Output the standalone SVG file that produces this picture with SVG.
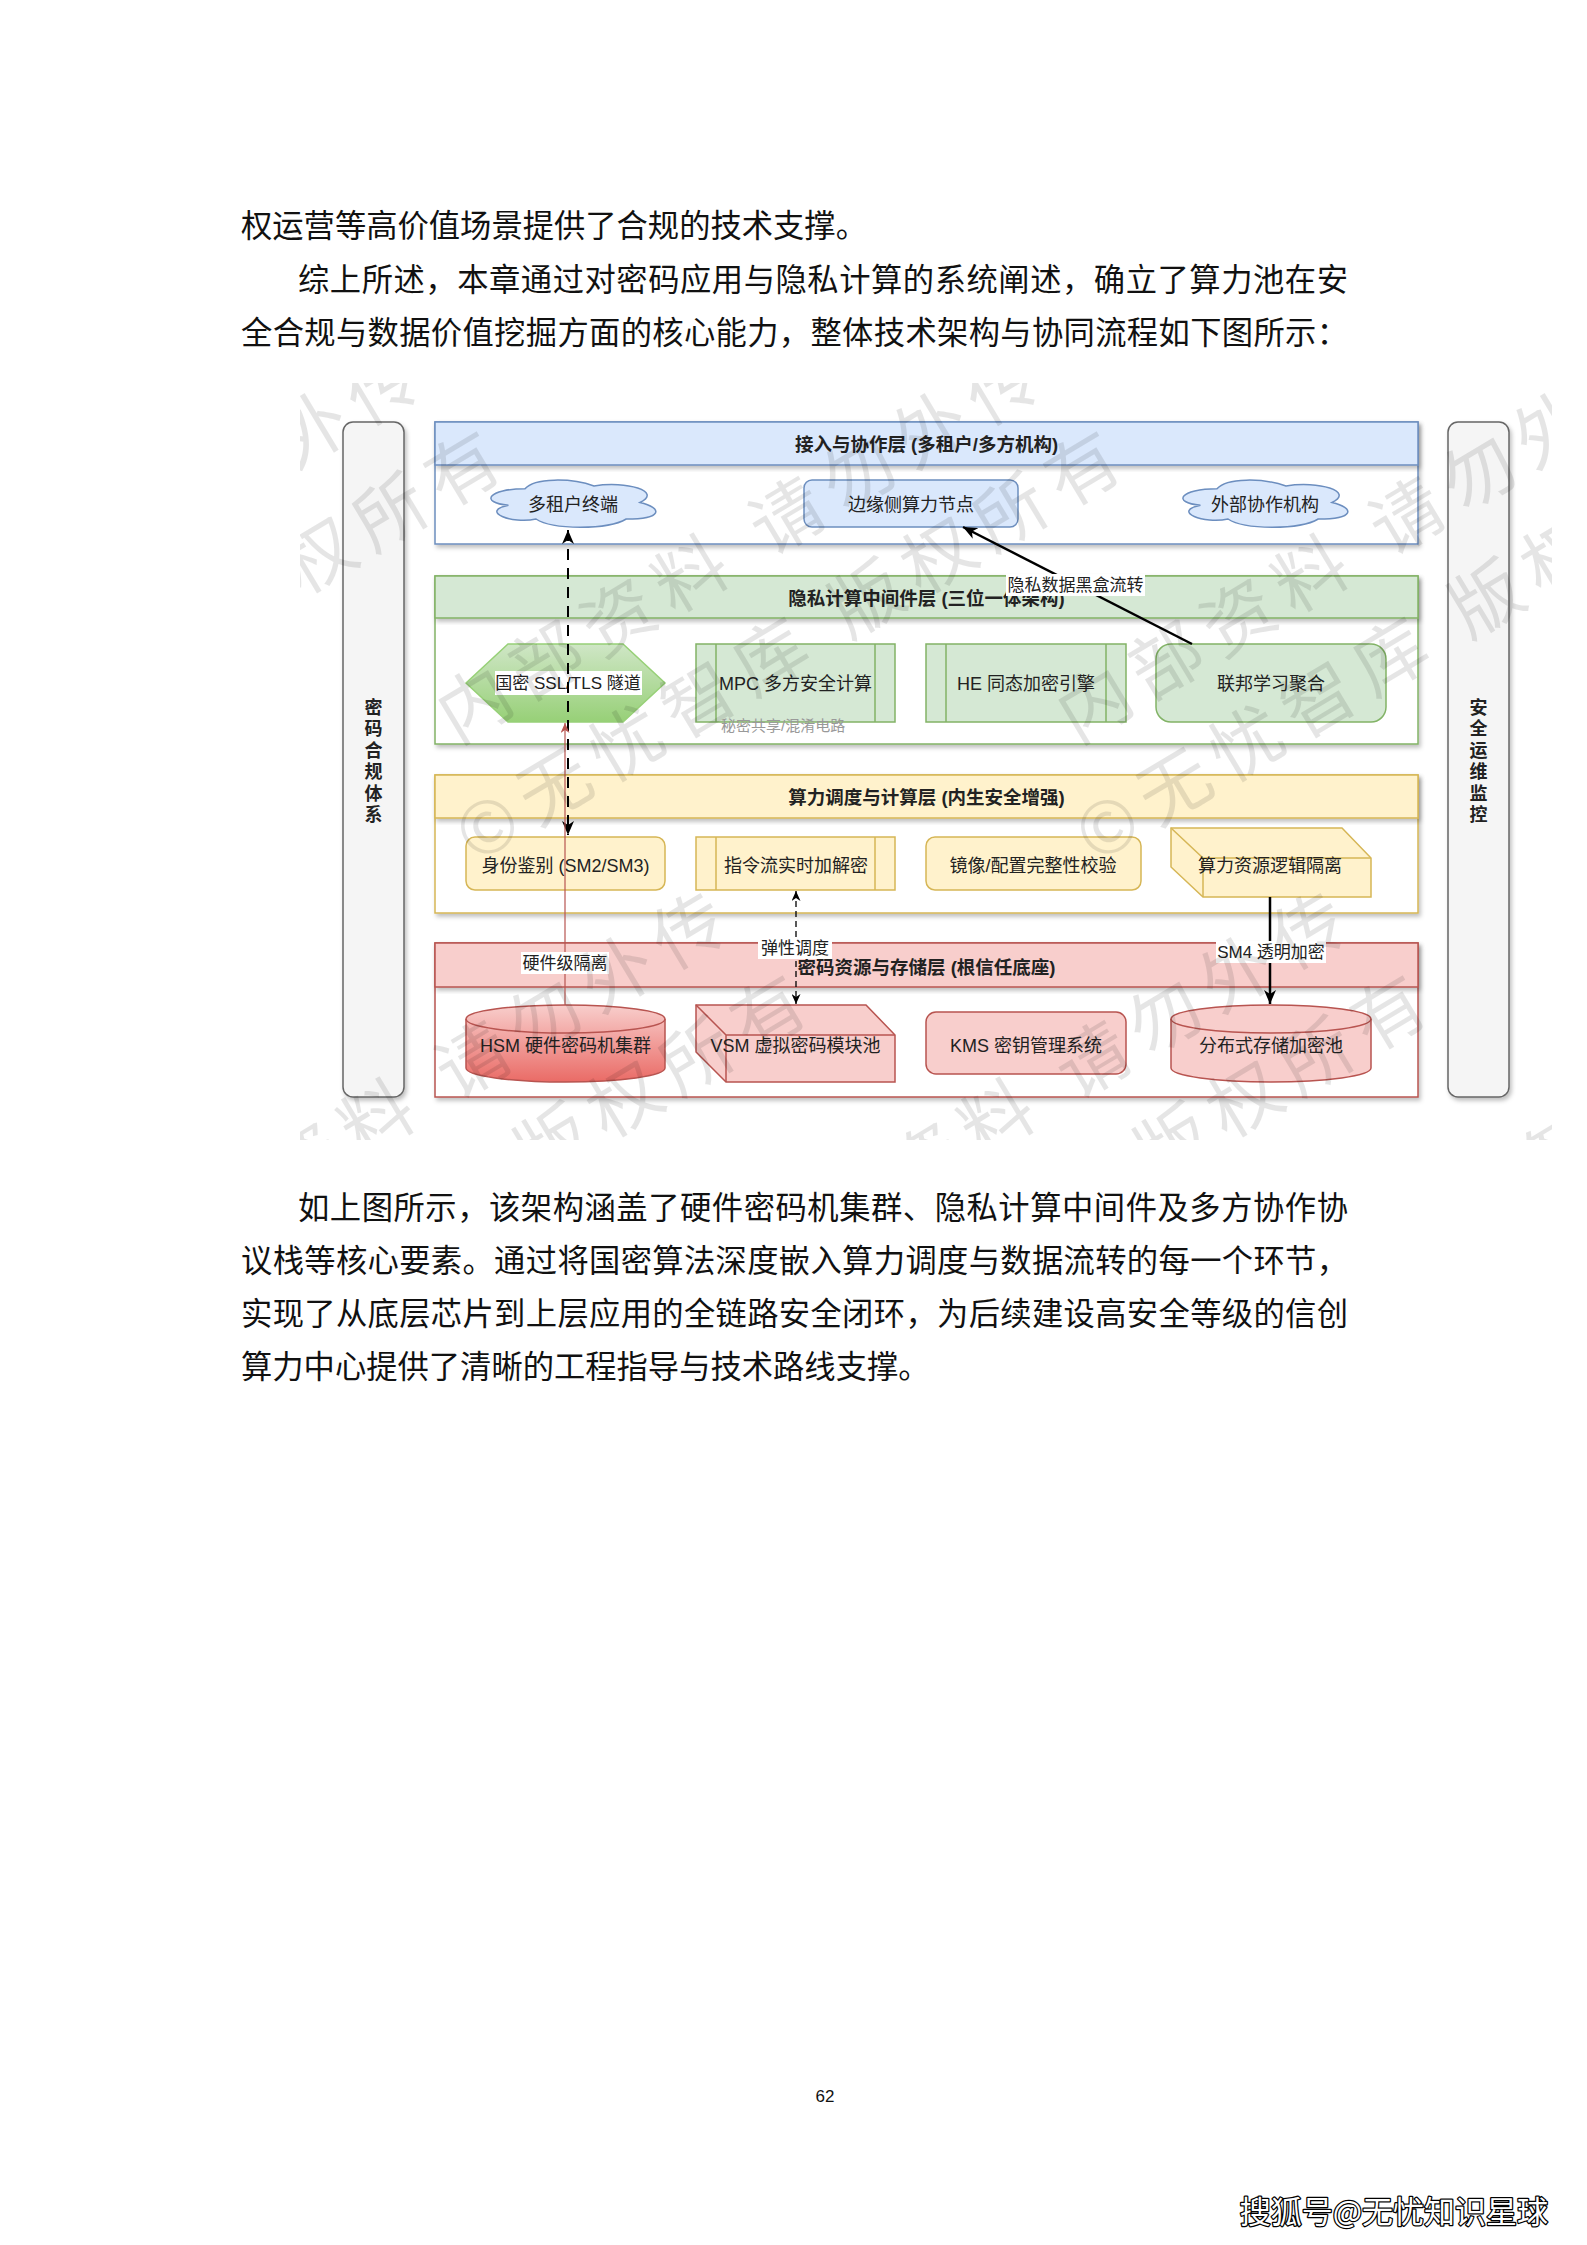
<svg xmlns="http://www.w3.org/2000/svg" width="1587" height="2245" viewBox="0 0 1587 2245">
<style>
.body{font-family:"Noto Sans CJK SC",sans-serif;font-size:31.3px;fill:#111}
.n{font-family:"Liberation Sans","Noto Sans CJK SC",sans-serif;font-size:18px;fill:#222;text-anchor:middle}
.h{font-family:"Liberation Sans","Noto Sans CJK SC",sans-serif;font-size:18.5px;font-weight:bold;fill:#222;text-anchor:middle}
.side{font-family:"Liberation Sans","Noto Sans CJK SC",sans-serif;font-size:18px;font-weight:bold;fill:#222;text-anchor:middle}
.el{font-family:"Liberation Sans","Noto Sans CJK SC",sans-serif;font-size:17px;fill:#222;text-anchor:middle}
.lbg{fill:#fff}
.wm{font-family:"Noto Sans CJK SC",sans-serif;font-size:72px;fill:#000;fill-opacity:0.1;letter-spacing:12px}
.blueH{fill:#dae8fc;stroke:#6c8ebf;stroke-width:1.5}
.greenH{fill:#d5e8d4;stroke:#82b366;stroke-width:1.5}
.yellowH{fill:#fff2cc;stroke:#d6b656;stroke-width:1.5}
.redH{fill:#f8cecc;stroke:#b85450;stroke-width:1.5}
.blueB{fill:#fff;stroke:#6c8ebf;stroke-width:1.5}
.greenB{fill:#fff;stroke:#82b366;stroke-width:1.5}
.yellowB{fill:#fff;stroke:#d6b656;stroke-width:1.5}
.redB{fill:#fff;stroke:#b85450;stroke-width:1.5}
.g{fill:#d5e8d4;stroke:#82b366;stroke-width:1.5}
.y{fill:#fff2cc;stroke:#d6b656;stroke-width:1.5}
.r{fill:#f8cecc;stroke:#b85450;stroke-width:1.5}
.b{fill:#dae8fc;stroke:#6c8ebf;stroke-width:1.5}
.sidebar{fill:#f5f5f5;stroke:#666;stroke-width:1.5}
.ln{fill:none}
</style>
<defs>
<filter id="sh" x="-5%" y="-5%" width="115%" height="120%">
<feDropShadow dx="2" dy="3" stdDeviation="2" flood-color="#000" flood-opacity="0.25"/>
</filter>
<linearGradient id="hexg" x1="0" y1="0" x2="0" y2="1"><stop offset="0" stop-color="#cfe6c6"/><stop offset="1" stop-color="#97d077"/></linearGradient>
<linearGradient id="hsmg" x1="0" y1="0" x2="0" y2="1"><stop offset="0" stop-color="#f8cecc"/><stop offset="1" stop-color="#ea6b66"/></linearGradient>
<path id="cloudp" d="M46,13.75 C9.2,13.75 0,27.5 29.44,30.25 C0,36.3 33.12,49.5 57.04,44 C73.6,55 128.8,55 147.2,44 C184,44 184,33 161,27.5 C184,16.5 147.2,5.5 115,11 C92,2.75 55.2,2.75 46,13.75 Z"/>
<marker id="ab" viewBox="0 0 14 12" refX="14" refY="6" markerWidth="14" markerHeight="12" markerUnits="userSpaceOnUse" orient="auto-start-reverse"><path d="M0,0 L14,6 L0,12 L4,6 Z" fill="#000"/></marker>
<marker id="as" viewBox="0 0 10 9" refX="10" refY="4.5" markerWidth="10" markerHeight="9" markerUnits="userSpaceOnUse" orient="auto-start-reverse"><path d="M0,0 L10,4.5 L0,9 L3,4.5 Z" fill="#000"/></marker>
<marker id="ar" viewBox="0 0 10 9" refX="10" refY="4.5" markerWidth="10" markerHeight="9" markerUnits="userSpaceOnUse" orient="auto-start-reverse"><path d="M0,0 L10,4.5 L0,9 L3,4.5 Z" fill="#b85450"/></marker>
<clipPath id="wmclip"><rect x="300" y="383" width="1252" height="757"/></clipPath>
<g id="wmb"><text x="-36" y="27">内部资料 请勿外传</text><text x="-82" y="139">©无忧智库 版权所有</text></g>
</defs>

<rect x="0" y="0" width="1587" height="2245" fill="#fff"/>

<g id="text-top">
<text class="body" x="241" y="237">权运营等高价值场景提供了合规的技术支撑。</text>
<text class="body" x="298" y="291" textLength="1050" lengthAdjust="spacing">综上所述，本章通过对密码应用与隐私计算的系统阐述，确立了算力池在安</text>
<text class="body" x="241" y="344" textLength="1107" lengthAdjust="spacing">全合规与数据价值挖掘方面的核心能力，整体技术架构与协同流程如下图所示：</text>
</g>

<g id="side-left">
<rect class="sidebar" x="343" y="422" width="61" height="675" rx="10" filter="url(#sh)"/>
<text class="side"><tspan x="373.5" y="713.5">密</tspan><tspan x="373.5" y="735">码</tspan><tspan x="373.5" y="756.5">合</tspan><tspan x="373.5" y="778">规</tspan><tspan x="373.5" y="799.5">体</tspan><tspan x="373.5" y="821">系</tspan></text>
</g>
<g id="side-right">
<rect class="sidebar" x="1448" y="422" width="61" height="675" rx="10" filter="url(#sh)"/>
<text class="side"><tspan x="1478.5" y="713.5">安</tspan><tspan x="1478.5" y="735">全</tspan><tspan x="1478.5" y="756.5">运</tspan><tspan x="1478.5" y="778">维</tspan><tspan x="1478.5" y="799.5">监</tspan><tspan x="1478.5" y="821">控</tspan></text>
</g>

<g id="layer-access">
<rect class="blueB" x="435" y="422" width="983" height="122" filter="url(#sh)"/>
<rect class="blueH" x="435" y="422" width="983" height="43" filter="url(#sh)"/>
<text class="h" x="926.5" y="451">接入与协作层 (多租户/多方机构)</text>
</g>
<g id="layer-privacy">
<rect class="greenB" x="435" y="576" width="983" height="168" filter="url(#sh)"/>
<rect class="greenH" x="435" y="576" width="983" height="42" filter="url(#sh)"/>
<text class="h" x="926.5" y="605">隐私计算中间件层 (三位一体架构)</text>
</g>
<g id="layer-compute">
<rect class="yellowB" x="435" y="775" width="983" height="138" filter="url(#sh)"/>
<rect class="yellowH" x="435" y="775" width="983" height="43" filter="url(#sh)"/>
<text class="h" x="926.5" y="804">算力调度与计算层 (内生安全增强)</text>
</g>
<g id="layer-crypto">
<rect class="redB" x="435" y="943" width="983" height="154" filter="url(#sh)"/>
<rect class="redH" x="435" y="943" width="983" height="44" filter="url(#sh)"/>
<text class="h" x="926.5" y="974">密码资源与存储层 (根信任底座)</text>
</g>

<g id="node-tenant">
<use href="#cloudp" transform="translate(479,475)" fill="#dae8fc" stroke="#6c8ebf" stroke-width="1.5"/>
<text class="n" x="573" y="510.5">多租户终端</text>
</g>
<g id="node-edge">
<rect class="b" x="804" y="480" width="214" height="47" rx="8"/>
<text class="n" x="911" y="510.5">边缘侧算力节点</text>
</g>
<g id="node-external">
<use href="#cloudp" transform="translate(1171,475)" fill="#dae8fc" stroke="#6c8ebf" stroke-width="1.5"/>
<text class="n" x="1265" y="510.5">外部协作机构</text>
</g>

<g id="node-tunnel">
<polygon points="466,683 508,644 623,644 665,683 623,722 508,722" fill="url(#hexg)" stroke="#97d077" stroke-width="1.5"/>
<rect class="lbg" x="495" y="671" width="147" height="24"/>
<text class="n" x="568" y="689" style="font-size:17px">国密 SSL/TLS 隧道</text>
</g>
<g id="node-mpc">
<rect class="g" x="696" y="644" width="199" height="78"/>
<path class="g ln" d="M716,644 V722 M875,644 V722"/>
<text class="n" x="795.5" y="690">MPC 多方安全计算</text>
<text x="721" y="730.5" style="font-family:'Liberation Sans','Noto Sans CJK SC',sans-serif;font-size:15px;fill:#999">秘密共享/混淆电路</text>
</g>
<g id="node-he">
<rect class="g" x="926" y="644" width="200" height="78"/>
<path class="g ln" d="M946,644 V722 M1106,644 V722"/>
<text class="n" x="1026" y="690">HE 同态加密引擎</text>
</g>
<g id="node-fl">
<rect class="g" x="1156" y="644" width="230" height="78" rx="15"/>
<text class="n" x="1271" y="690">联邦学习聚合</text>
</g>

<g id="node-auth">
<rect class="y" x="466" y="837" width="199" height="53" rx="9"/>
<text class="n" x="565.5" y="872">身份鉴别 (SM2/SM3)</text>
</g>
<g id="node-stream">
<rect class="y" x="696" y="837" width="199" height="53"/>
<path class="y ln" d="M716,837 V890 M875,837 V890"/>
<text class="n" x="796" y="872">指令流实时加解密</text>
</g>
<g id="node-integrity">
<rect class="y" x="926" y="837" width="215" height="53" rx="9"/>
<text class="n" x="1033" y="872">镜像/配置完整性校验</text>
</g>
<g id="node-isolation">
<path class="y" d="M1171,828 H1342 L1371,858 V897 H1203 L1171,867 Z"/>
<path class="y ln" d="M1171,828 L1203,858 H1371 M1203,858 V897"/>
<text class="n" x="1270" y="872">算力资源逻辑隔离</text>
</g>

<g id="node-hsm">
<path d="M466,1019 A99.5,14 0 0 1 665,1019 V1068 A99.5,14 0 0 1 466,1068 Z" fill="url(#hsmg)" stroke="#b85450" stroke-width="1.5"/>
<path d="M466,1019 A99.5,14 0 0 0 665,1019" fill="none" stroke="#b85450" stroke-width="1.5"/>
<text class="n" x="565.5" y="1051.5">HSM 硬件密码机集群</text>
</g>
<g id="node-vsm">
<path class="r" d="M696,1005 H866 L895,1035 V1082 H726 L696,1052 Z"/>
<path class="r ln" d="M696,1005 L726,1035 H895 M726,1035 V1082"/>
<text class="n" x="795.5" y="1051.5">VSM 虚拟密码模块池</text>
</g>
<g id="node-kms">
<rect class="r" x="926" y="1012" width="200" height="62" rx="10"/>
<text class="n" x="1026" y="1051.5">KMS 密钥管理系统</text>
</g>
<g id="node-storage">
<path class="r" d="M1171,1019 A100,14 0 0 1 1371,1019 V1068 A100,14 0 0 1 1171,1068 Z"/>
<path class="r ln" d="M1171,1019 A100,14 0 0 0 1371,1019"/>
<text class="n" x="1271" y="1051.5">分布式存储加密池</text>
</g>

<g id="connectors">
<path d="M568,530 V835" stroke="#000" stroke-width="2" stroke-dasharray="11 8" fill="none" marker-start="url(#ab)" marker-end="url(#ab)"/>
<path d="M565,1005 V723" stroke="#b85450" stroke-width="1.2" fill="none" marker-end="url(#ar)"/>
<path d="M796,891 V1004" stroke="#000" stroke-width="1.3" stroke-dasharray="6 4" fill="none" marker-start="url(#as)" marker-end="url(#as)"/>
<path d="M1192,644 L963,527" stroke="#000" stroke-width="2.5" fill="none" marker-end="url(#ab)"/>
<path d="M1270,897 V1004" stroke="#000" stroke-width="2.5" fill="none" marker-end="url(#ab)"/>
<rect class="lbg" x="1006" y="574" width="139" height="22"/>
<text class="el" x="1075.5" y="591">隐私数据黑盒流转</text>
<rect class="lbg" x="521" y="952" width="88" height="22"/>
<text class="el" x="565" y="969">硬件级隔离</text>
<rect class="lbg" x="758" y="937" width="74" height="22"/>
<text class="el" x="795" y="954">弹性调度</text>
<rect class="lbg" x="1216" y="941" width="110" height="22"/>
<text class="el" x="1271" y="958">SM4 透明加密</text>
</g>

<g id="watermark" class="wm" clip-path="url(#wmclip)">
<use href="#wmb" transform="translate(-146,703) rotate(-31)"/>
<use href="#wmb" transform="translate(474,703) rotate(-31)"/>
<use href="#wmb" transform="translate(1094,703) rotate(-31)"/>
<use href="#wmb" transform="translate(160,1247) rotate(-31)"/>
<use href="#wmb" transform="translate(780,1247) rotate(-31)"/>
<use href="#wmb" transform="translate(1400,1247) rotate(-31)"/>
</g>

<g id="text-bottom">
<text class="body" x="298" y="1219" textLength="1050" lengthAdjust="spacing">如上图所示，该架构涵盖了硬件密码机集群、隐私计算中间件及多方协作协</text>
<text class="body" x="241" y="1272" textLength="1107" lengthAdjust="spacing">议栈等核心要素。通过将国密算法深度嵌入算力调度与数据流转的每一个环节，</text>
<text class="body" x="241" y="1325" textLength="1107" lengthAdjust="spacing">实现了从底层芯片到上层应用的全链路安全闭环，为后续建设高安全等级的信创</text>
<text class="body" x="241" y="1378">算力中心提供了清晰的工程指导与技术路线支撑。</text>
</g>

<text x="825" y="2102" text-anchor="middle" style="font-family:'Liberation Sans',sans-serif;font-size:17px;fill:#111">62</text>
<text x="1548" y="2223" text-anchor="end" style="font-family:'Noto Sans CJK SC',sans-serif;font-size:31px;fill:#fff;stroke:#000;stroke-width:2.5px;paint-order:stroke;stroke-linejoin:round">搜狐号@无忧知识星球</text>
</svg>
